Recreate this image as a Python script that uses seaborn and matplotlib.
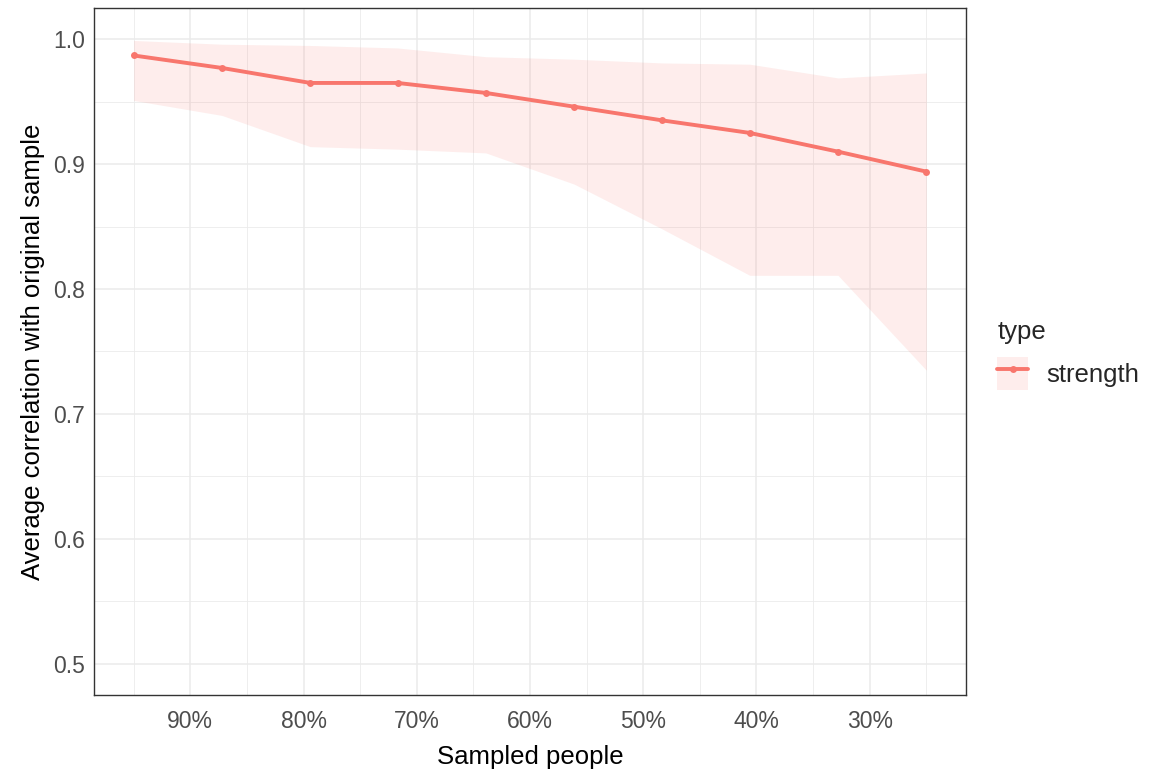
import matplotlib
matplotlib.use("Agg")
import matplotlib.pyplot as plt
import seaborn as sns
import pandas as pd
from matplotlib.ticker import PercentFormatter, MultipleLocator
from matplotlib.patches import Patch
from matplotlib.lines import Line2D

# values
sampled = [0.95, 0.872, 0.794, 0.717, 0.639, 0.561, 0.483, 0.406, 0.328, 0.25]
mean_corr = [0.987, 0.977, 0.965, 0.965, 0.957, 0.946, 0.935, 0.925, 0.910, 0.894]
upper = [0.999, 0.996, 0.995, 0.993, 0.986, 0.984, 0.981, 0.980, 0.969, 0.973]
lower = [0.951, 0.939, 0.914, 0.912, 0.909, 0.884, 0.848, 0.811, 0.811, 0.735]
types = ["strength"] * len(sampled)

df = pd.DataFrame({"sampled": sampled, "corr": mean_corr, "lo": lower,
                   "hi": upper, "type": types})

red = "#F8766D"
sns.set_style("white")
plt.rcParams['font.family'] = ['Liberation Sans', 'DejaVu Sans']

fig = plt.figure(figsize=(11.55, 7.72), dpi=100)
ax = fig.add_axes([94 / 1155, 1 - 695 / 772, (966 - 94) / 1155, (695 - 8) / 772])

ax.fill_between(df["sampled"], df["lo"], df["hi"], color=red, alpha=0.13,
                linewidth=0, zorder=2)
sns.lineplot(data=df, x="sampled", y="corr", color=red, linewidth=2.8,
             marker="o", markersize=5, markeredgewidth=0, ax=ax,
             legend=False, zorder=3)

ax.set_xlim(0.985, 0.215)
ax.set_ylim(0.475, 1.025)
ax.xaxis.set_major_locator(MultipleLocator(0.1))
ax.xaxis.set_minor_locator(MultipleLocator(0.05))
ax.yaxis.set_major_locator(MultipleLocator(0.1))
ax.yaxis.set_minor_locator(MultipleLocator(0.05))
ax.xaxis.set_major_formatter(PercentFormatter(1.0, decimals=0))
ax.yaxis.set_major_formatter(matplotlib.ticker.FormatStrFormatter("%.1f"))

ax.grid(which="major", color="#EBEBEB", linewidth=1.1, zorder=0)
ax.grid(which="minor", color="#EBEBEB", linewidth=0.6, zorder=0)
ax.set_axisbelow(True)
for s in ax.spines.values():
    s.set_color("#333333")
    s.set_linewidth(1.0)

ax.tick_params(which="major", length=3.5, width=0.9, color="#333333",
               labelsize=16.5, labelcolor="#4D4D4D")
ax.tick_params(axis="x", which="major", pad=7)
ax.tick_params(axis="y", which="major", pad=3)
ax.tick_params(which="minor", length=0)

ax.set_xlabel("Sampled people", fontsize=18.5, color="black", labelpad=9)
ax.set_ylabel("Average correlation with original sample", fontsize=18.5,
              color="black", labelpad=6)

handle = (Patch(facecolor=red, alpha=0.13, edgecolor="none"),
          Line2D([], [], color=red, linewidth=2.8, marker="o", markersize=5,
                 markeredgewidth=0))
leg = fig.legend([handle], ["strength"], title="type", loc="upper left",
                 bbox_to_anchor=(974 / 1155, 1 - 297 / 772), frameon=False,
                 fontsize=18.5, title_fontsize=18.5, handlelength=1.2,
                 handleheight=1.6, handletextpad=0.7)
leg._legend_box.align = "left"

fig.savefig("out.png", dpi=100)
